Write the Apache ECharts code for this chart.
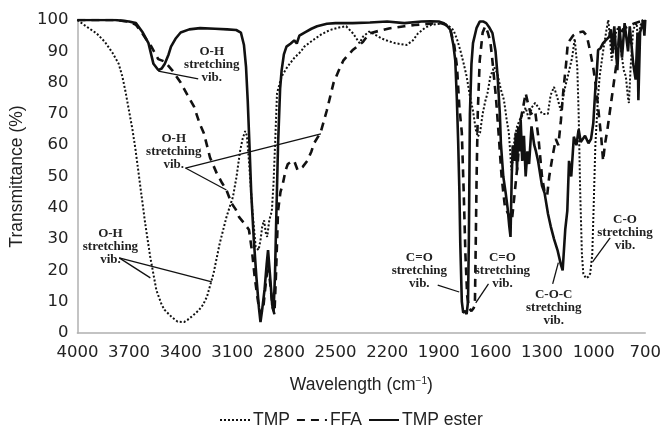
<!DOCTYPE html>
<html>
<head>
<meta charset="utf-8">
<title>FTIR</title>
<script src="https://cdn.jsdelivr.net/npm/echarts@6/dist/echarts.min.js"></script>
<style>
  html, body { margin: 0; padding: 0; background: #fff; }
  #chart { width: 664px; height: 426px; }
</style>
</head>
<body>
<div id="chart"></div>
<script>
// wavenumber (cm-1) / transmittance (%)
var esterWave = [4000,3900,3780,3700,3660,3620,3587,3558,3530,3510,3492,3470,3456,3430,3400,3350,3287,3200,3130,3077,3050,3032,3020,3010,3000,2990,2975,2960,2945,2936,2925,2912,2900,2892,2880,2868,2860,2852,2845,2834,2822,2813,2800,2785,2760,2740,2725,2710,2680,2640,2607,2550,2500,2400,2300,2200,2100,2000,1950,1900,1870,1850,1832,1815,1804,1795,1787,1780,1775,1766,1758,1745,1738,1730,1725,1719,1710,1701,1680,1662,1640,1624,1605,1588,1570,1558,1545,1539,1525,1511,1500,1490,1483,1476,1470,1460,1452,1445,1438,1430,1424,1415,1405,1395,1385,1375,1361,1345,1335,1323,1300,1285,1265,1249,1230,1210,1191,1180,1165,1153,1143,1130,1115,1100,1087,1075,1068,1050,1030,1015,1002,990,983,974,960,945,909,900,890,880,862,850,835,820,800,790,770,756,745,740,730,720,712,705,700];
var esterT = [100,100,100,99.5,99,96,92.6,86,84,84.5,86,89,91.5,94,96,97,97.4,97.2,97,96.8,96,92,85,74,60,45,30,18,8,3.5,8,14,22,26.5,18,9,7,18,35,60,78,84,89,91.5,92.5,93.5,92.5,95,96,97.2,98,98.8,99,99,99.2,99.5,99,99.5,99.6,99.5,99,98,96.8,92,87,75,60.6,45,28.7,10,6.5,7,6,10,30,70,86,92.6,97.5,99.5,99.5,99,97.5,95.8,90,82,70,60.6,50,44.7,40,34,30.7,50,60,55,64,52,66,58,68,55,63,50,58,54,66,60,58,55,47,44.7,38,34,30,26.5,22,20,33,39,55,50,62.7,60,65,61,60.6,63,60.6,62,67,78,82,90.4,91,92.6,94.7,97,89.5,98,84,98,88,99,90,98,86,81,96,74.4,96,98,100,95,100];

var ffaWave = [4000,3780,3700,3660,3620,3590,3570,3530,3492,3450,3400,3360,3322,3290,3265,3229,3190,3160,3134,3105,3080,3060,3030,3003,2985,2970,2950,2935,2920,2905,2892,2880,2865,2855,2845,2834,2820,2805,2790,2777,2760,2740,2720,2692,2664,2640,2625,2587,2551,2511,2480,2455,2440,2398,2341,2304,2250,2190,2100,2040,1950,1889,1860,1832,1810,1794,1780,1766,1755,1745,1735,1725,1710,1697,1690,1685,1680,1673,1662,1645,1630,1615,1600,1590,1568,1550,1535,1515,1495,1475,1460,1440,1425,1410,1395,1380,1365,1340,1320,1300,1285,1270,1258,1240,1220,1205,1190,1175,1160,1150,1120,1090,1060,1040,1020,1000,985,970,955,945,935,920,895,870,850,830,800,760,730,700];
var ffaT = [100,100,99.5,98.5,95.5,93,91.5,87.5,86.7,84,80,76,72.3,67,63.8,56,51,48,45.7,41.5,39.5,37,35,33,26,18,10,6,8,16,22,16,8,6,20,39,45,48,52,54,54.6,55,52,53,55,58,60.6,64,71,80,84,87,88,90.5,93,95.7,96.5,97.3,98,98.4,98.8,99,98.5,96.8,92,85,72,64,45,25,12,8,7,8,9,28.7,50,71,87,96,98,96,93,88,75.5,62,50,40,38,36,44,55,68,72,76.6,73,70,71,62,50,45,44,50,56,62,60,68,78,86,92.6,95,96,96.3,95,90,84,78,70,62,55,60,65,75,85,95,97,98,99,99.5,100];

var tmpWave = [4000,3950,3888,3840,3796,3760,3739,3720,3700,3680,3662,3634,3606,3577,3541,3510,3492,3450,3417,3380,3360,3330,3294,3270,3247,3209,3173,3134,3096,3075,3055,3040,3025,3015,3003,2983,2964,2947,2935,2926,2915,2905,2897,2885,2870,2860,2851,2840,2813,2780,2738,2700,2681,2630,2580,2532,2480,2438,2398,2360,2340,2304,2260,2228,2190,2154,2087,2050,2021,1980,1946,1872,1840,1815,1795,1775,1755,1738,1720,1701,1685,1673,1660,1645,1630,1617,1600,1578,1560,1540,1521,1505,1493,1485,1478,1470,1460,1445,1430,1410,1395,1375,1360,1340,1320,1300,1266,1250,1230,1210,1191,1170,1150,1125,1110,1095,1087,1078,1068,1060,1045,1030,1020,1008,1000,990,975,965,945,925,915,905,895,880,870,855,840,825,813,800,795,785,770,750,740,730,715,700];
var tmpT = [100,98,95.7,93,89.5,86,82,77,71,65,58.5,46.7,35,24.4,13.7,9,7.3,5,3.6,3.5,4.2,5.5,7.3,9,11.6,19,28.6,37,43.5,50,58,62,64.5,63,55,39,27.5,26.5,30,34,36,32,30.7,36,39,48,60.6,76.6,82,85,88,90,91.5,93.6,95.5,96.8,97.6,98,95.7,92.6,94.7,96.3,95,94,93.2,92.6,92,93.5,95.7,97.5,98.4,99,98,96.8,94,90.4,86,82,76,71,65,62.7,64,70,74,76.6,82,85,83,78,74.4,68,64,58,52,55,62,66,68,70,72,68,72,73.5,72,70,70,76,78.6,75,71,77.6,82,88,94,85,70,45,25,19,17.5,18,19,25,40,60,75,82,90,97,100,94,87,92,96,98,90,84,82,75,73.5,85,97,99,92,98,100,100];

var xTicks = [700, 4000, 300];   // min, max, step
var yTicks = [0, 100, 10];

// annotation labels: text, centre [wave, T], leader lines [[from],[to]]
var noteText = ['O-H\nstretching\nvib.', 'O-H\nstretching\nvib.', 'O-H\nstretching\nvib.', 'C=O\nstretching\nvib.', 'C=O\nstretching\nvib.', 'C-O-C\nstretching\nvib.', 'C-O\nstretching\nvib.'];
var noteAt = [[3219, 85.6], [3440, 57.8], [3808, 27.5], [2013, 19.8], [1530, 19.8], [1232, 8.0], [818, 32]];
var noteLines = [
  [[[3530, 83.7], [3298, 81.2]]],
  [[[3372, 52.7], [2585, 63.6]], [[3372, 52.7], [3134, 45.7]]],
  [[[3757, 24], [3219, 16.3]], [[3757, 24], [3576, 17.6]]],
  [[[1906, 15.3], [1781, 13.1]]],
  [[[1611, 15.7], [1685, 9.6]]],
  [[[1238, 15.7], [1205, 22.5]]],
  [[[904, 30.4], [1006, 22.7]]]
];

function pairs(w, t) {
  var out = [];
  for (var i = 0; i < w.length; i++) out.push([w[i], t[i]]);
  return out;
}

var chart = echarts.init(document.getElementById('chart'));
var font = 'Liberation Sans, Arial, sans-serif';
var tickFont = 'DejaVu Sans, sans-serif';

chart.setOption({
  animation: false,
  grid: { left: 68, right: 14, top: 20, bottom: 93 },
  legend: {
    top: 406, left: 214,
    itemWidth: 30, itemHeight: 12, itemGap: 6,
    itemStyle: { opacity: 0 },
    textStyle: { fontFamily: font, fontSize: 17.5, color: '#222', padding: [0, 0, 0, -2] },
    data: ['TMP', 'FFA', 'TMP ester']
  },
  xAxis: {
    type: 'value', inverse: true,
    min: xTicks[0], max: xTicks[1], interval: xTicks[2],
    name: 'Wavelength (cm{sup|\u22121})', nameLocation: 'middle', nameGap: 43,
    nameTextStyle: {
      fontFamily: font, fontSize: 17.5, color: '#222',
      rich: { sup: { fontFamily: font, fontSize: 10, verticalAlign: 'top', padding: [0, 0, 8, 0], color: '#222' } }
    },
    axisLine: { lineStyle: { color: '#b0b0b0', width: 1.5 } },
    axisTick: { show: false },
    splitLine: { show: false },
    axisLabel: { fontFamily: tickFont, fontSize: 16.5, color: '#222', margin: 11, formatter: function (v) { return String(v); } }
  },
  yAxis: {
    type: 'value', min: yTicks[0], max: yTicks[1], interval: yTicks[2],
    name: 'Transmittance (%)', nameLocation: 'middle', nameGap: 34,
    nameTextStyle: { fontFamily: font, fontSize: 17.5, color: '#222' },
    axisLine: { show: true, lineStyle: { color: '#b0b0b0', width: 1.5 } },
    axisTick: { show: false },
    splitLine: { show: false },
    axisLabel: { fontFamily: tickFont, fontSize: 16.5, color: '#222', margin: 9 }
  },
  series: [
    {
      name: 'TMP', type: 'line', symbol: 'none', data: pairs(tmpWave, tmpT),
      lineStyle: { color: '#111', width: 2, type: [2, 2] }, itemStyle: { color: '#111' }, z: 2
    },
    {
      name: 'FFA', type: 'line', symbol: 'none', data: pairs(ffaWave, ffaT),
      lineStyle: { color: '#111', width: 2.6, type: [8, 6] }, itemStyle: { color: '#111' }, z: 3
    },
    {
      name: 'TMP ester', type: 'line', symbol: 'none', data: pairs(esterWave, esterT),
      lineStyle: { color: '#111', width: 2.6 }, itemStyle: { color: '#111' }, z: 4
    }
  ]
});

// place the annotations through the chart's own coordinate system
var graphics = [];
for (var i = 0; i < noteText.length; i++) {
  var c = chart.convertToPixel({ gridIndex: 0 }, noteAt[i]);
  graphics.push({
    type: 'text', x: c[0], y: c[1], z: 10,
    style: {
      text: noteText[i], fill: '#222', align: 'center', verticalAlign: 'middle',
      font: 'bold 13px "Liberation Serif", "Times New Roman", serif', lineHeight: 13
    }
  });
  noteLines[i].forEach(function (seg) {
    var a = chart.convertToPixel({ gridIndex: 0 }, seg[0]);
    var b = chart.convertToPixel({ gridIndex: 0 }, seg[1]);
    graphics.push({
      type: 'line', z: 10,
      shape: { x1: a[0], y1: a[1], x2: b[0], y2: b[1] },
      style: { stroke: '#111', lineWidth: 1.3 }
    });
  });
}
chart.setOption({ graphic: graphics });
</script>
</body>
</html>
